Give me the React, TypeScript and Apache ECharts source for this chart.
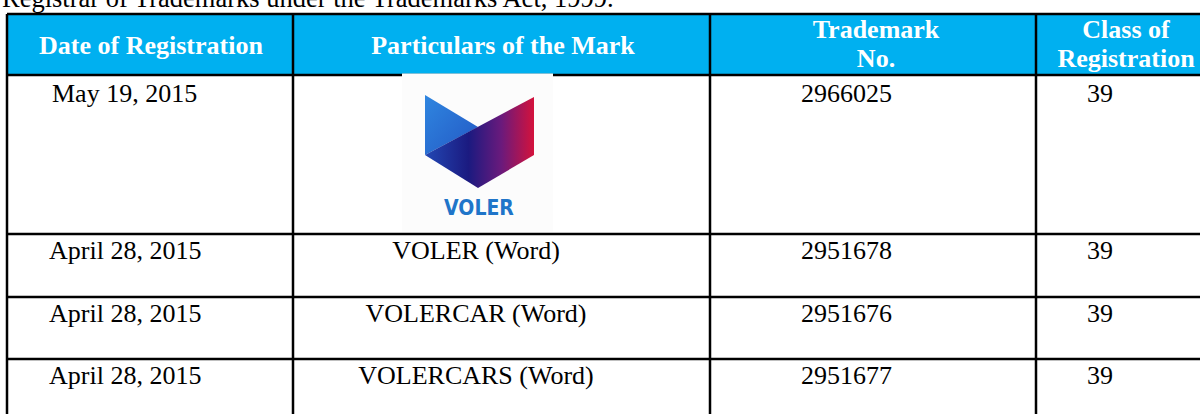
import React, { useEffect, useRef } from "react";
import * as echarts from "echarts";

// ---- data ----
const caption = "Registrar of Trademarks under the Trademarks Act, 1999.";
const headerLines: string[][] = [
  ["Date of Registration"],
  ["Particulars of the Mark"],
  ["Trademark", "No."],
  ["Class of", "Registration"],
];
const dates = ["May 19, 2015", "April 28, 2015", "April 28, 2015", "April 28, 2015"];
const marks = ["VOLER", "VOLER (Word)", "VOLERCAR (Word)", "VOLERCARS (Word)"];
const trademarkNos = ["2966025", "2951678", "2951676", "2951677"];
const classes = ["39", "39", "39", "39"];

// ---- layout ----
const colEdges = [7, 293, 710, 1036, 1220];
const headerTop = 14;
const headerBottom = 75;
const rowEdges = [75, 234, 297, 359, 420];
const SERIF = '"Liberation Serif", "Times New Roman", serif';
const FS = 26;

function txt(text: string, x: number, baseline: number, opts: any = {}) {
  const size = opts.size ?? FS;
  return {
    type: "text",
    x,
    y: baseline - 0.3375 * size,
    z: opts.z ?? 10,
    style: {
      text,
      font: `${opts.bold ? "bold " : ""}${size}px ${opts.family ?? SERIF}`,
      fill: opts.fill ?? "#000",
      textAlign: opts.align ?? "left",
      align: opts.align ?? "left",
      textVerticalAlign: "middle",
      verticalAlign: "middle",
    },
  };
}

function line(x1: number, y1: number, x2: number, y2: number) {
  return {
    type: "line",
    z: 5,
    shape: { x1, y1, x2, y2 },
    style: { stroke: "#000", lineWidth: 2.5 },
  };
}

export default function App() {
  const ref = useRef<HTMLDivElement>(null);
  useEffect(() => {
    if (!ref.current) return;
    const chart = echarts.init(ref.current, undefined, { renderer: "svg" });
    const els: any[] = [];

    // caption (cut at top, as in the reference)
    els.push(txt(caption, 2, 6.5, { size: 26.5 }));

    // header background
    els.push({
      type: "rect",
      z: 1,
      shape: { x: colEdges[0], y: headerTop, width: 1200, height: headerBottom - headerTop },
      style: { fill: "#00b0f0" },
    });

    // header texts
    const headerCenters = [151, 503, 876, 1126];
    headerLines.forEach((lines, i) => {
      if (lines.length === 1) {
        els.push(txt(lines[0], headerCenters[i], 54, { bold: true, fill: "#fff", align: "center" }));
      } else {
        els.push(txt(lines[0], headerCenters[i], 38, { bold: true, fill: "#fff", align: "center" }));
        els.push(txt(lines[1], headerCenters[i], 67, { bold: true, fill: "#fff", align: "center" }));
      }
    });

    // grid lines
    els.push(line(colEdges[0], headerTop, 1200, headerTop));
    rowEdges.slice(0, 4).forEach((y) => els.push(line(colEdges[0], y, 1200, y)));
    colEdges.slice(0, 4).forEach((x) => els.push(line(x, headerTop, x, 414)));

    // rows
    const dateX = [52, 49, 49, 49];
    dates.forEach((d, i) => {
      const base = rowEdges[i] + (i === 0 ? 27 : 25);
      els.push(txt(d, dateX[i], base));
      els.push(txt(trademarkNos[i], 801, base));
      els.push(txt(classes[i], 1087, base));
      if (i > 0) els.push(txt(marks[i], 476, base, { align: "center" }));
    });

    // logo box
    els.push({
      type: "rect",
      z: 8,
      shape: { x: 402, y: 73.5, width: 151, height: 158 },
      style: { fill: "#fcfcfc" },
    });
    els.push({
      type: "polygon",
      z: 9,
      shape: { points: [[425, 95], [478, 127], [425, 155]] },
      style: {
        fill: new echarts.graphic.LinearGradient(0, 0, 1, 1, [
          { offset: 0, color: "#2f86e0" },
          { offset: 1, color: "#2358c4" },
        ]),
      },
    });
    els.push({
      type: "polygon",
      z: 9,
      shape: { points: [[425, 155], [534, 97], [534, 155], [478, 188]] },
      style: {
        fill: new echarts.graphic.LinearGradient(0, 0, 1, 0, [
          { offset: 0, color: "#2248b4" },
          { offset: 0.4, color: "#1b1a80" },
          { offset: 0.7, color: "#6a1a7c" },
          { offset: 1, color: "#d4123c" },
        ]),
      },
    });
    els.push(
      txt(marks[0], 479, 215, {
        bold: true,
        size: 21,
        fill: "#1f75c9",
        align: "center",
        family: '"DejaVu Sans Condensed", "Liberation Sans Narrow", sans-serif',
      })
    );

    chart.setOption({ animation: false, graphic: { elements: els } });
    return () => chart.dispose();
  }, []);
  return (
    <div
      ref={ref}
      style={{ position: "absolute", left: 0, top: 0, width: 1200, height: 414, background: "#fff" }}
    />
  );
}
